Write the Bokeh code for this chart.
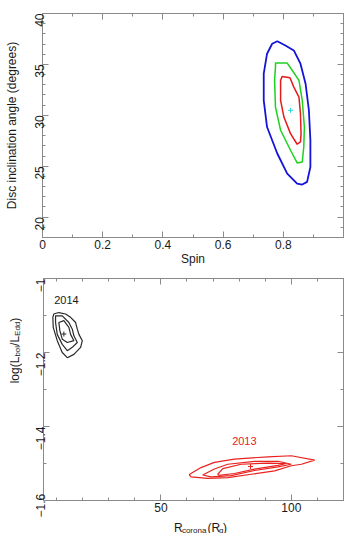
import math
from bokeh.plotting import figure
from bokeh.layouts import column, row
from bokeh.models import LinearAxis, FixedTicker, Range1d
from bokeh.core.properties import value
from bokeh.embed import file_html
from bokeh.resources import INLINE

FONT = "Liberation Sans"

# ---------------- top panel: spin vs disc inclination ----------------
spin_3sig = [0.780, 0.807, 0.835, 0.857, 0.874, 0.885, 0.890, 0.890, 0.879, 0.863,
             0.846, 0.813, 0.780, 0.746, 0.735, 0.735, 0.746, 0.763]
incl_3sig = [37.28, 36.86, 36.37, 35.07, 33.10, 30.50, 27.55, 24.93, 23.46, 23.20,
             23.30, 24.28, 26.25, 28.85, 31.47, 34.09, 36.05, 37.03]
spin_2sig = [0.774, 0.813, 0.830, 0.852, 0.863, 0.870, 0.868, 0.863, 0.846, 0.824,
             0.791, 0.774, 0.771, 0.774]
incl_2sig = [35.13, 35.13, 34.40, 33.43, 31.47, 28.85, 26.90, 25.42, 25.32, 26.57,
             28.53, 30.81, 33.43, 34.74]
spin_1sig = [0.796, 0.822, 0.835, 0.852, 0.857, 0.859, 0.857, 0.846, 0.824, 0.802,
             0.791, 0.791]
incl_1sig = [33.82, 33.69, 32.77, 31.79, 30.16, 28.20, 27.38, 27.16, 28.20, 29.83,
             31.47, 33.43]
best_spin = [0.824]
best_incl = [30.49]

# ---------------- bottom panel: corona size vs Eddington ratio ----------------
r14_outer = [8.96, 10.88, 13.46, 15.38, 17.31, 17.96, 18.58, 19.88, 19.23, 16.65,
             14.12, 12.19, 10.27, 8.73, 8.58]
l14_outer = [-1.096, -1.092, -1.096, -1.105, -1.119, -1.137, -1.151, -1.168, -1.186,
             -1.205, -1.214, -1.200, -1.168, -1.132, -1.105]
r14_mid = [9.62, 12.19, 14.73, 16.04, 16.65, 17.96, 16.04, 14.12, 12.19, 10.27, 9.62]
l14_mid = [-1.101, -1.101, -1.119, -1.137, -1.155, -1.173, -1.186, -1.195, -1.178,
           -1.151, -1.119]
r14_inner = [10.88, 12.81, 14.73, 15.38, 16.65, 14.12, 12.19, 11.27]
l14_inner = [-1.119, -1.114, -1.132, -1.151, -1.168, -1.173, -1.164, -1.141]
r14_best = [12.81]
l14_best = [-1.150]

r13_outer = [60.88, 65.38, 70.50, 78.19, 91.04, 100.0, 108.96, 103.85, 100.0, 93.58,
             84.62, 75.65, 67.96, 61.54]
l13_outer = [-1.530, -1.511, -1.497, -1.488, -1.482, -1.479, -1.491, -1.502, -1.506,
             -1.520, -1.529, -1.538, -1.540, -1.536]
r13_mid = [66.04, 70.50, 75.65, 85.88, 94.88, 100.0, 94.88, 85.88, 76.92, 69.23]
l13_mid = [-1.531, -1.515, -1.502, -1.494, -1.494, -1.502, -1.509, -1.519, -1.533,
           -1.536]
r13_inner = [71.81, 73.73, 80.77, 91.04, 98.08, 94.88, 85.88, 78.19, 72.31]
l13_inner = [-1.529, -1.514, -1.502, -1.499, -1.500, -1.505, -1.515, -1.527, -1.532]
r13_best = [84.35]
l13_best = [-1.508]

year_labels = ["2014", "2013"]
year_r = [13.8, 82.0]
year_l = [-1.058, -1.440]

# tick layout
spin_major = [0, 0.2, 0.4, 0.6, 0.8]
spin_minor = [0.1, 0.3, 0.5, 0.7, 0.9, 1.0]
incl_major = [20, 25, 30, 35, 40]
incl_minor = [v for v in range(18, 41) if v % 5]
r_major = [50, 100]
r_minor = [10, 20, 30, 40, 60, 70, 80, 90, 110, 120]
l_major = [-1.0, -1.2, -1.4, -1.6]
l_minor = [-1.1, -1.3, -1.5]

FRAME = "#8a8a8a"
TXT = "#1a1a1a"


def style_panel(p, xmaj, xmin, ymaj, ymin, xlabels, ylabels):
    p.outline_line_color = FRAME
    p.outline_line_width = 1
    p.grid.visible = False
    p.background_fill_color = "white"
    p.border_fill_color = "white"
    bottom = p.below[0]
    left = p.left[0]
    bottom.ticker = FixedTicker(ticks=xmaj, minor_ticks=xmin)
    left.ticker = FixedTicker(ticks=ymaj, minor_ticks=ymin)
    bottom.major_label_overrides = xlabels
    left.major_label_overrides = ylabels
    left.major_label_orientation = math.pi / 2
    # mirrored tick marks on the top and right edges, without labels
    top = LinearAxis(ticker=FixedTicker(ticks=xmaj, minor_ticks=xmin),
                     major_label_overrides={v: "" for v in xmaj})
    right = LinearAxis(ticker=FixedTicker(ticks=ymaj, minor_ticks=ymin),
                       major_label_overrides={v: "" for v in ymaj})
    p.add_layout(top, "above")
    p.add_layout(right, "right")
    for ax in [bottom, left, top, right]:
        ax.axis_line_color = FRAME
        ax.major_tick_line_color = FRAME
        ax.minor_tick_line_color = FRAME
        ax.major_tick_in = 6
        ax.major_tick_out = 0
        ax.minor_tick_in = 3
        ax.minor_tick_out = 0
        ax.major_label_text_font = FONT
        ax.major_label_text_font_size = "12px"
        ax.major_label_text_color = TXT
        ax.major_label_standoff = 3
        ax.axis_label_text_font = FONT
        ax.axis_label_text_font_size = "12px"
        ax.axis_label_text_font_style = "normal"
        ax.axis_label_text_color = TXT
    bottom.major_label_standoff = 2
    for ax in [top, right]:
        ax.major_label_standoff = 0
    return bottom, left


# ---------- top figure ----------
p1 = figure(frame_width=301, frame_height=224, x_range=Range1d(0, 1), y_range=Range1d(18, 40),
            output_backend="svg", toolbar_location=None,
            min_border_left=42, min_border_right=6, min_border_top=13, min_border_bottom=30)
xa1, ya1 = style_panel(p1, spin_major, spin_minor, incl_major, incl_minor,
                       {0: "0", 0.2: "0.2", 0.4: "0.4", 0.6: "0.6", 0.8: "0.8"},
                       {v: str(v) for v in incl_major})
xa1.axis_label = "Spin"
xa1.axis_label_standoff = 0
ya1.axis_label = "Disc inclination angle (degrees)"
ya1.axis_label_standoff = 9
p1.patch(spin_3sig, incl_3sig, fill_color=None, line_color="#1414d8", line_width=1.8)
p1.patch(spin_2sig, incl_2sig, fill_color=None, line_color="#1fd11f", line_width=1.5)
p1.patch(spin_1sig, incl_1sig, fill_color=None, line_color="#e51b1b", line_width=1.5)
p1.scatter(best_spin, best_incl, marker="cross", size=5, line_color="#22d8e0", line_width=1)

# ---------- bottom figure ----------
p2 = figure(frame_width=300, frame_height=222, x_range=Range1d(5, 120),
            y_range=Range1d(-1.6, -1.0), output_backend="svg", toolbar_location=None,
            min_border_left=21, min_border_right=6, min_border_top=10, min_border_bottom=17)
style_panel(p2, r_major, r_minor, l_major, l_minor,
            {50: "50", 100: "100"},
            {-1: "\u22121", -1.2: "\u22121.2", -1.4: "\u22121.4", -1.6: "\u22121.6"})
for xs, ys in [(r14_outer, l14_outer), (r14_mid, l14_mid), (r14_inner, l14_inner)]:
    p2.patch(xs, ys, fill_color=None, line_color="#2a2a2a", line_width=1.2)
for xs, ys in [(r13_outer, l13_outer), (r13_mid, l13_mid), (r13_inner, l13_inner)]:
    p2.patch(xs, ys, fill_color=None, line_color="#e8231f", line_width=1.2)
p2.scatter(r14_best, l14_best, marker="cross", size=5, line_color="#2a2a2a", line_width=1)
p2.scatter(r13_best, l13_best, marker="cross", size=5, line_color="#e8231f", line_width=1)
p2.text(year_r, year_l, text=year_labels, text_font_size="11px",
        text_color=["#1a1a1a", "#e8231f"], text_align="center", text_baseline="middle",
        text_font=value(FONT))

# Arial-like advance widths (per 1000 em) for composing sub-scripted titles
ADV = {"l": 222, "o": 556, "g": 556, "(": 333, ")": 333, "L": 556, "b": 556, "/": 278,
       "E": 667, "d": 556, "R": 722, "c": 500, "r": 333, "n": 556, "a": 556, " ": 278}


def width(s, size):
    return sum(ADV[c] for c in s) * size / 1000.0


def strip(w, h):
    # blank pixel-space canvas holding an axis title
    s = figure(width=w, height=h, x_range=Range1d(0, w), y_range=Range1d(h, 0),
               output_backend="svg", toolbar_location=None, min_border=0)
    s.axis.visible = False
    s.grid.visible = False
    s.outline_line_color = None
    return s


def compose(s, pieces, cx, cy, vertical):
    total = sum(width(t, sz) for t, sz, _ in pieces)
    pos = -total / 2.0
    for t, sz, shift in pieces:
        body = t.lstrip()
        lead = width(t[:len(t) - len(body)], sz)  # leading blanks become an offset
        if vertical:
            px, py = cx + shift, cy - pos - lead
        else:
            px, py = cx + pos + lead, cy + shift
        s.text([px], [py], text=[body], text_font=value(FONT), text_font_size=f"{sz}px",
               text_color=TXT, text_align="left", text_baseline="alphabetic",
               angle=math.pi / 2 if vertical else 0.0)
        pos += width(t, sz)


ylab = strip(22, 265)
compose(ylab, [("log(L", 12, 0), ("bol", 8, 3), ("/L", 12, 0), ("Edd", 8, 3), (")", 12, 0)],
        14, 82, True)
xlab = strip(327, 16)
compose(xlab, [("R", 12, 0), ("corona", 8, 2.5), (" (R", 12, 0), ("g", 8, 2.5), (")", 12, 0)],
        171, 10, False)

layout = column(p1, row(ylab, column(p2, xlab, spacing=0), spacing=0), spacing=0)
open("out.html", "w").write(file_html(layout, INLINE))
